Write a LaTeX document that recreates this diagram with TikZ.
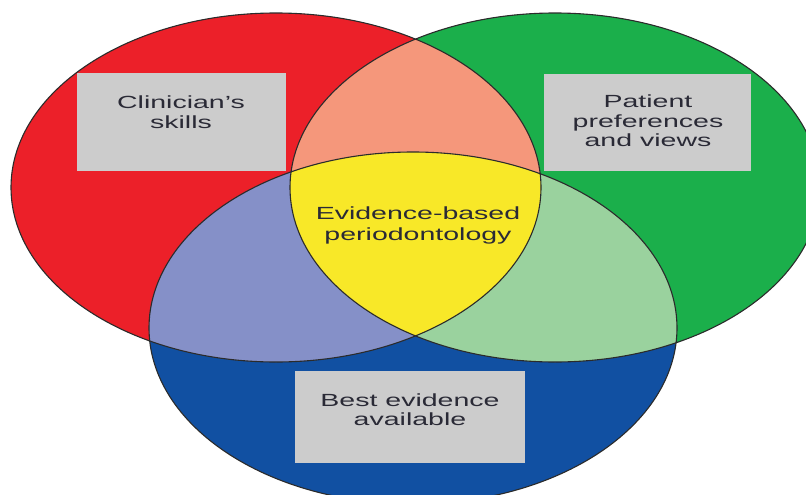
\documentclass[tikz,border=0pt]{standalone}
\usepackage{fontspec}
\newfontfamily\labfont[FakeStretch=1.62]{Liberation Sans}
\definecolor{cred}{HTML}{EC2029}
\definecolor{cgreen}{HTML}{1BAF4B}
\definecolor{cblue}{HTML}{1150A2}
\definecolor{csalmon}{HTML}{F5977B}
\definecolor{cyellow}{HTML}{F8E828}
\definecolor{clav}{HTML}{8590C8}
\definecolor{clgreen}{HTML}{9AD29E}
\definecolor{cbox}{HTML}{CCCCCC}
\definecolor{cline}{HTML}{2B2B2B}
\definecolor{ctext}{HTML}{2A2A36}
\tikzset{
  labelbox/.style={fill=cbox, draw=none, inner sep=0pt},
  labeltext/.style={anchor=north, inner sep=0pt, align=center, text=ctext,
    font={\labfont\fontsize{17.6}{19.4}\selectfont}},
  centertext/.style={labeltext, font={\labfont\fontsize{17.6}{21}\selectfont}},
  outline/.style={draw=cline, line width=1.1pt}
}
\begin{document}
\begin{tikzpicture}[x=1pt,y=-1pt]
\useasboundingbox (0,0) rectangle (806,495);
\def\redE{(276,187.5) ellipse [x radius=265pt, y radius=174.5pt]}
\def\greenE{(555,187.5) ellipse [x radius=265pt, y radius=174.5pt]}
\def\blueE{(413,328) ellipse [x radius=264pt, y radius=176pt]}
% base fills
\fill[cred] \redE;
\fill[cgreen] \greenE;
\fill[cblue] \blueE;
% pairwise intersections
\begin{scope}\clip \redE; \fill[csalmon] \greenE; \end{scope}
\begin{scope}\clip \redE; \fill[clav] \blueE; \end{scope}
\begin{scope}\clip \greenE; \fill[clgreen] \blueE; \end{scope}
% triple intersection
\begin{scope}\clip \redE; \clip \greenE; \fill[cyellow] \blueE; \end{scope}
% outlines
\draw[outline] \redE;
\draw[outline] \greenE;
\draw[outline] \blueE;
% label boxes
\node[labelbox, minimum width=209pt, minimum height=98pt] (clinbox) at (181.5,122) {};
\node[labelbox, minimum width=207pt, minimum height=97pt] (patbox) at (647.5,122.5) {};
\node[labelbox, minimum width=230pt, minimum height=92pt] (bestbox) at (410,417) {};
% texts
\node[labeltext] (clin) at (181,95.7) {Clinician’s\\skills};
\node[labeltext] (pat) at (648,95) {Patient\\preferences\\and views};
\node[labeltext] (best) at (410,393.3) {Best evidence\\available};
\node[centertext] (ebp) at (418,206.7) {Evidence-based\\periodontology};
\end{tikzpicture}
\end{document}
